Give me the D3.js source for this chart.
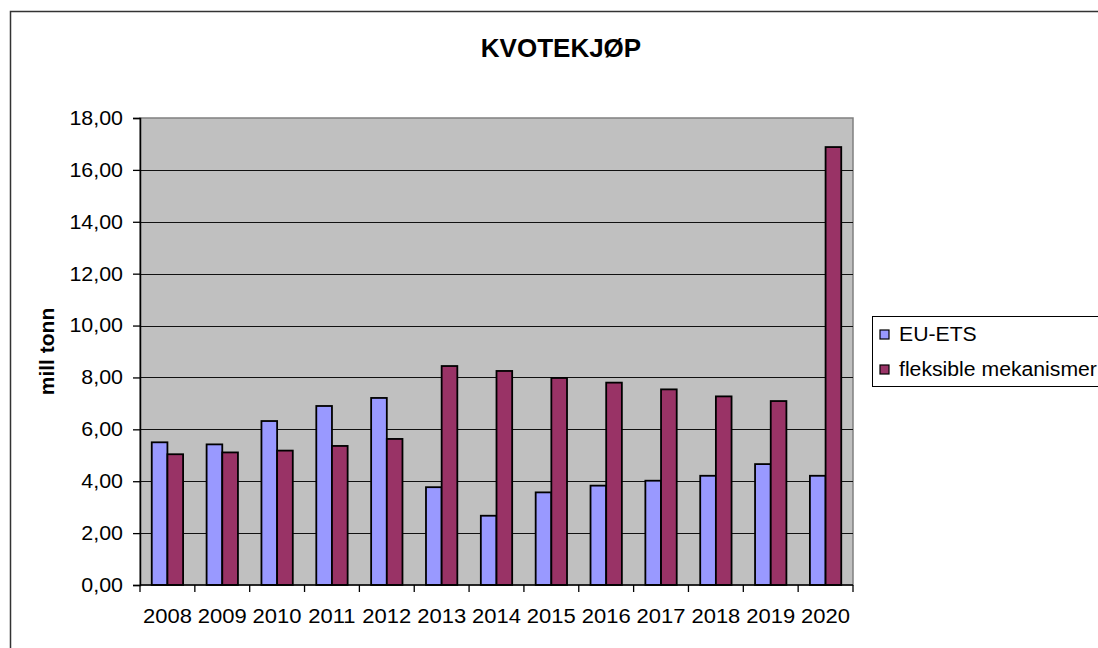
<!DOCTYPE html>
<html>
<head>
<meta charset="utf-8">
<script src="https://cdn.jsdelivr.net/npm/d3@7"></script>
<style>
  body { margin: 0; background: #fff; }
  text { font-family: Arial, "Liberation Sans", sans-serif; fill: #000; }
</style>
</head>
<body>
<svg id="chart" width="1098" height="648"></svg>
<script>
// data
let years = ['2008', '2009', '2010', '2011', '2012', '2013', '2014', '2015', '2016', '2017', '2018', '2019', '2020'];
let eu_ets = [5.50, 5.42, 6.32, 6.90, 7.21, 3.77, 2.67, 3.57, 3.83, 4.02, 4.21, 4.66, 4.21];
let fleksible = [5.04, 5.11, 5.18, 5.36, 5.63, 8.44, 8.25, 7.98, 7.80, 7.54, 7.27, 7.09, 16.88];
let series_names = ['EU-ETS', 'fleksible mekanismer'];
let series_colors = ['#9999ff', '#993366'];
let y_ticks = d3.range(0, 18.01, 2);

let plot = {left: 140, right: 853, top: 118, bottom: 585};

let svg = d3.select('#chart');

// the old excel fonts run a bit wider than liberation
function widen(sel, k) {
	sel.each(function() {
		let w = this.getComputedTextLength();
		d3.select(this)
			.attr('textLength', w * k)
			.attr('lengthAdjust', 'spacingAndGlyphs');
	});
}

// outer chart border (runs off the right and bottom edge)
svg.append('rect')
	.attr('x', 10.5)
	.attr('y', 11.5)
	.attr('width', 1200)
	.attr('height', 800)
	.attr('fill', '#fff')
	.attr('stroke', '#333')
	.attr('stroke-width', 1.5);

let x = d3.scaleBand()
	.domain(years)
	.range([plot.left, plot.right]);

let y = d3.scaleLinear()
	.domain([0, 18])
	.range([plot.bottom, plot.top]);

// excel gap width 150%
let bar_w = x.bandwidth() / 3.5;
let gap = bar_w * 0.75;

// plot area
svg.append('rect')
	.attr('x', plot.left)
	.attr('y', plot.top)
	.attr('width', plot.right - plot.left)
	.attr('height', plot.bottom - plot.top)
	.attr('fill', '#c0c0c0')
	.attr('stroke', '#808080')
	.attr('stroke-width', 1.5);

// gridlines
svg.selectAll('.grid')
	.data(y_ticks.slice(1, -1))
	.enter().append('line')
	.attr('class', 'grid')
	.attr('x1', plot.left)
	.attr('x2', plot.right)
	.attr('y1', d => Math.round(y(d)) + 0.5)
	.attr('y2', d => Math.round(y(d)) + 0.5)
	.attr('stroke', '#111')
	.attr('stroke-width', 1.2);

// bars
let series = [eu_ets, fleksible];
series.forEach(function(vals, s) {
	svg.selectAll('.bar-' + s)
		.data(vals)
		.enter().append('rect')
		.attr('class', 'bar-' + s)
		.attr('x', (d, i) => x(years[i]) + gap + s * bar_w)
		.attr('y', d => y(d))
		.attr('width', bar_w)
		.attr('height', d => y(0) - y(d))
		.attr('fill', series_colors[s])
		.attr('stroke', '#000')
		.attr('stroke-width', 1.8);
});

// y axis
let y_axis = svg.append('g')
	.attr('transform', `translate(${plot.left},0)`)
	.call(d3.axisLeft(y)
		.tickValues(y_ticks)
		.tickSize(7)
		.tickPadding(10)
		.tickFormat(d => d3.format('.2f')(d).replace('.', ',')));
y_axis.select('.domain').attr('stroke', '#000').attr('stroke-width', 1.5);
y_axis.selectAll('line').attr('stroke', '#000').attr('stroke-width', 1.3);
y_axis.selectAll('text')
	.style('font-size', '20px')
	.style('font-family', 'Arial, "Liberation Sans", sans-serif')
	.attr('fill', '#000')
	.call(widen, 1.07);

// x axis, ticks on band edges
let x_axis = svg.append('g')
	.attr('transform', `translate(0,${plot.bottom})`);
x_axis.append('line')
	.attr('x1', plot.left)
	.attr('x2', plot.right)
	.attr('stroke', '#000')
	.attr('stroke-width', 1.5);
x_axis.selectAll('.xtick')
	.data(years.concat(['end']))
	.enter().append('line')
	.attr('x1', (d, i) => plot.left + i * x.step())
	.attr('x2', (d, i) => plot.left + i * x.step())
	.attr('y1', 0)
	.attr('y2', 7)
	.attr('stroke', '#000')
	.attr('stroke-width', 1.3);
x_axis.selectAll('.xlabel')
	.data(years)
	.enter().append('text')
	.attr('x', d => x(d) + x.bandwidth() / 2)
	.attr('y', 38)
	.attr('text-anchor', 'middle')
	.style('font-size', '20px')
	.text(d => d)
	.call(widen, 1.1);

// title
svg.append('text')
	.attr('x', 561)
	.attr('y', 57)
	.attr('text-anchor', 'middle')
	.style('font-size', '26px')
	.style('font-weight', 'bold')
	.text('KVOTEKJØP');

// y axis title
svg.append('text')
	.attr('transform', `translate(54,${(plot.top + plot.bottom) / 2}) rotate(-90)`)
	.attr('text-anchor', 'middle')
	.style('font-size', '20px')
	.style('font-weight', 'bold')
	.text('mill tonn')
	.call(widen, 1.05);

// legend
let legend = svg.append('g')
	.attr('transform', 'translate(872,316)');
legend.append('rect')
	.attr('x', 0.5)
	.attr('y', 0.5)
	.attr('width', 300)
	.attr('height', 70)
	.attr('fill', '#fff')
	.attr('stroke', '#000')
	.attr('stroke-width', 1);
let items = legend.selectAll('.item')
	.data(series_names)
	.enter().append('g')
	.attr('transform', (d, i) => `translate(8,${14 + i * 35})`);
items.append('rect')
	.attr('width', 9)
	.attr('height', 9)
	.attr('fill', (d, i) => series_colors[i])
	.attr('stroke', '#000')
	.attr('stroke-width', 1.2);
items.append('text')
	.attr('x', 19)
	.attr('y', 11)
	.style('font-size', '20px')
	.text(d => d)
	.call(widen, 1.06);
</script>
</body>
</html>
